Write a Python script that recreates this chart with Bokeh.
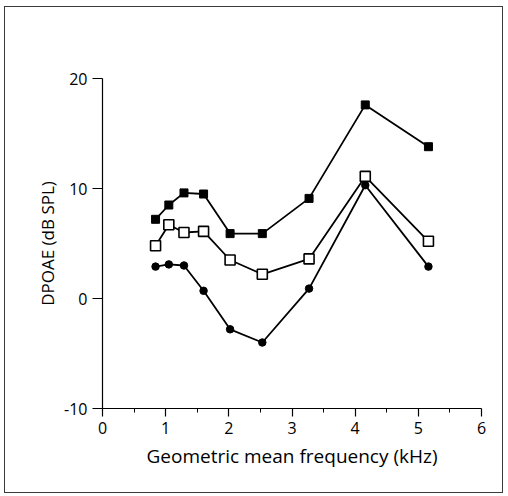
from bokeh.plotting import figure
from bokeh.models import FixedTicker, Title, ColumnDataSource
from bokeh.layouts import column
from bokeh.embed import file_html
from bokeh.resources import INLINE

# Data
freq_khz = [0.84, 1.05, 1.29, 1.60, 2.02, 2.53, 3.27, 4.16, 5.16]
filled_squares = [7.2, 8.5, 9.6, 9.5, 5.9, 5.9, 9.1, 17.6, 13.8]
open_squares = [4.8, 6.7, 6.0, 6.1, 3.5, 2.2, 3.6, 11.1, 5.2]
filled_circles = [2.9, 3.1, 3.0, 0.7, -2.8, -4.0, 0.9, 10.3, 2.9]

x_ticks = [0, 1, 2, 3, 4, 5, 6]
x_minor = [0.5, 1.5, 2.5, 3.5, 4.5, 5.5]
y_ticks = [-10, 0, 10, 20]

FONT = "Open Sans"

p = figure(width=497, height=485, output_backend="svg", toolbar_location=None,
           x_range=(0, 6), y_range=(-10, 20),
           min_border_left=97, min_border_right=21, min_border_top=71, min_border_bottom=84)
p.outline_line_color = None
p.grid.visible = False
p.background_fill_color = "white"
p.border_fill_color = "white"

src = ColumnDataSource(dict(x=freq_khz, a=filled_squares, b=open_squares, c=filled_circles))

for col in ["a", "b", "c"]:
    p.line("x", col, source=src, line_color="black", line_width=1.8)

p.scatter("x", "a", source=src, marker="square", size=8, fill_color="black", line_color="black")
p.scatter("x", "b", source=src, marker="square", size=10, fill_color="white", line_color="black", line_width=1.6)
p.scatter("x", "c", source=src, marker="circle", size=7.5, fill_color="black", line_color="black")

xa = p.xaxis[0]
xa.ticker = FixedTicker(ticks=x_ticks, minor_ticks=x_minor)
xa.major_tick_out = 8
xa.major_tick_in = 0
xa.minor_tick_out = 4
xa.minor_tick_in = 0
xa.axis_line_color = "black"
xa.axis_line_width = 1.2
xa.major_tick_line_width = 1.2
xa.major_label_text_font = FONT
xa.major_label_text_font_size = "16px"
xa.major_label_text_color = "black"
xa.major_label_standoff = 5
xa.axis_label = "Geometric mean frequency (kHz)"
xa.axis_label_text_font = FONT
xa.axis_label_text_font_size = "19px"
xa.axis_label_text_font_style = "normal"
xa.axis_label_text_color = "black"
xa.axis_label_standoff = 6

ya = p.yaxis[0]
ya.ticker = FixedTicker(ticks=y_ticks, minor_ticks=[])
ya.major_tick_out = 10
ya.major_tick_in = 0
ya.minor_tick_out = 0
ya.minor_tick_in = 0
ya.axis_line_color = "black"
ya.axis_line_width = 1.2
ya.major_tick_line_width = 1.2
ya.major_label_text_font = FONT
ya.major_label_text_font_size = "16px"
ya.major_label_text_color = "black"
ya.major_label_standoff = 5
ya.major_label_overrides = {-10: "-10"}

# y-axis title (sits above the axis centre in the reference)
p.add_layout(Title(text="DPOAE (dB SPL)", align="center", offset=28,
                   text_font=FONT, text_font_size="17px", text_font_style="normal",
                   text_color="black", standoff=6), "left")

layout = column(p, margin=(6, 0, 0, 4),
                styles={"border": "1.5px solid #3a3a3a"})

open("out.html", "w").write(file_html(layout, INLINE))
